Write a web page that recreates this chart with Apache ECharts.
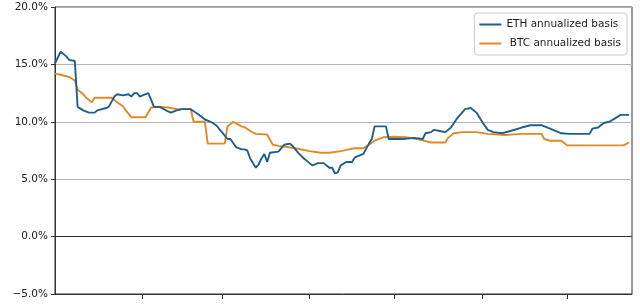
<!DOCTYPE html>
<html>
<head>
<meta charset="utf-8">
<script src="https://cdn.jsdelivr.net/npm/echarts@6/dist/echarts.min.js"></script>
<style>
html,body{margin:0;padding:0;background:#fff;}
#chart{width:640px;height:304px;}
</style>
</head>
<body>
<div id="chart"></div>
<script>
// Daily categories: 2021-01-01 .. 2021-07-24
var monthNames = ['01','02','03','04','05','06','07'];
var monthDays = [31, 28, 31, 30, 31, 30, 24];
var dates = [];
for (var m = 0; m < monthNames.length; m++) {
  for (var d = 1; d <= monthDays[m]; d++) {
    dates.push('2021-' + monthNames[m] + '-' + (d < 10 ? '0' + d : '' + d));
  }
}

var yTicks = [-5, 0, 5, 10, 15, 20];

var ethName = 'ETH annualized basis';
var ethX = [0,2,4,5,7,8,10,12,14,15,18,19,21,22,24,26,27,28,29,30,31,33,35,37,40,41,43,45,48,51,53,55,57,59,61,62,64,66,67,68,69,71,72,73,74,75,76,79,81,83,84,86,88,90,91,93,95,97,98,99,100,101,103,105,106,108,109,111,112,113,117,118,123,127,130,131,133,134,136,138,140,142,145,147,149,151,153,155,158,161,165,168,172,175,179,182,189,190,192,194,196,198,200,203];
var ethY = [15.1,16.1,15.7,15.4,15.3,11.3,11.0,10.8,10.8,11.0,11.2,11.3,12.2,12.4,12.3,12.4,12.2,12.5,12.5,12.2,12.3,12.5,11.3,11.3,10.9,10.8,11.0,11.1,11.1,10.6,10.2,10.0,9.7,9.1,8.5,8.5,7.8,7.6,7.6,7.5,6.8,6.0,6.3,6.8,7.2,6.5,7.3,7.4,8.0,8.1,7.9,7.3,6.8,6.4,6.2,6.4,6.4,6.0,6.0,5.5,5.6,6.2,6.5,6.5,6.9,7.1,7.2,8.1,8.5,9.6,9.6,8.5,8.5,8.6,8.5,9.0,9.1,9.3,9.2,9.1,9.5,10.25,11.1,11.2,10.8,10.0,9.3,9.1,9.0,9.2,9.5,9.7,9.7,9.4,9.0,8.95,8.95,9.4,9.5,9.9,10.0,10.3,10.6,10.6];

var btcName = ' BTC annualized basis';
var btcX = [0,2,5,7,8,10,11,13,14,20,22,24,25,27,32,34,37,40,43,48,49,53,54,60,61,63,66,67,69,71,75,77,79,82,86,90,94,97,101,104,106,109,111,113,116,120,124,129,133,138,139,141,144,149,153,159,165,172,173,175,179,181,188,196,201,203];
var btcY = [14.2,14.1,13.9,13.6,12.8,12.4,12.1,11.7,12.1,12.1,11.7,11.35,11.0,10.4,10.4,11.25,11.3,11.25,11.1,11.1,10.0,10.0,8.1,8.1,9.6,10.0,9.6,9.55,9.2,8.95,8.9,8.0,7.9,7.8,7.65,7.45,7.3,7.3,7.45,7.6,7.7,7.7,8.0,8.35,8.65,8.7,8.65,8.45,8.2,8.2,8.6,9.0,9.1,9.1,8.95,8.85,8.95,8.95,8.5,8.35,8.35,7.95,7.95,7.95,7.95,8.2];

function pairs(xs, ys) {
  return xs.map(function (x, i) { return [x, ys[i]]; });
}

var chart = echarts.init(document.getElementById('chart'), null, {renderer: 'canvas'});
var FONT = 'DejaVu Sans';
chart.setOption({
  animation: false,
  backgroundColor: '#ffffff',
  grid: {
    left: 55, right: 8, top: 7, bottom: 10,
    show: true, borderColor: '#333333', borderWidth: 1, backgroundColor: '#ffffff'
  },
  legend: {
    orient: 'vertical',
    right: 13, top: 13,
    backgroundColor: '#ffffff',
    borderColor: '#cccccc', borderWidth: 1, borderRadius: 3,
    padding: [6, 6, 6, 5],
    itemGap: 8,
    itemWidth: 22, itemHeight: 2,
    icon: 'rect',
    textStyle: {fontFamily: FONT, fontSize: 10.5, color: '#222222', padding: [0, 0, 0, 0]},
    data: [ethName, btcName]
  },
  xAxis: {
    type: 'category',
    data: dates,
    boundaryGap: false,
    axisLine: {show: true, onZero: false, lineStyle: {color: '#333333', width: 1}},
    axisTick: {
      show: true, length: 5, inside: false,
      lineStyle: {color: '#333333', width: 1},
      interval: function (index, value) { return index > 0 && value.slice(8) === '01'; }
    },
    axisLabel: {show: false},
    splitLine: {show: false}
  },
  yAxis: {
    type: 'value',
    min: yTicks[0], max: yTicks[yTicks.length - 1], interval: 5,
    axisLine: {show: true, lineStyle: {color: '#333333', width: 1}},
    axisTick: {show: true, length: 4, lineStyle: {color: '#333333'}},
    axisLabel: {
      margin: 7,
      fontFamily: FONT, fontSize: 10.5, color: '#222222',
      formatter: function (v) {
        var s = Math.abs(v).toFixed(1) + '%';
        return v < 0 ? '\u2212' + s : s;
      }
    },
    splitLine: {show: true, lineStyle: {color: '#b4b4b4', width: 1}}
  },
  series: [
    {
      name: ethName,
      type: 'line',
      data: pairs(ethX, ethY),
      showSymbol: false,
      symbol: 'none',
      lineStyle: {color: '#1f5f8e', width: 1.9},
      itemStyle: {color: '#1f5f8e'},
      z: 3,
      markLine: {
        silent: true,
        symbol: 'none',
        label: {show: false},
        lineStyle: {color: '#333333', width: 1.2, type: 'solid'},
        data: [{yAxis: 0}]
      }
    },
    {
      name: btcName,
      type: 'line',
      data: pairs(btcX, btcY),
      showSymbol: false,
      symbol: 'none',
      lineStyle: {color: '#e08a25', width: 1.9},
      itemStyle: {color: '#e08a25'},
      z: 2
    }
  ]
});
</script>
</body>
</html>
